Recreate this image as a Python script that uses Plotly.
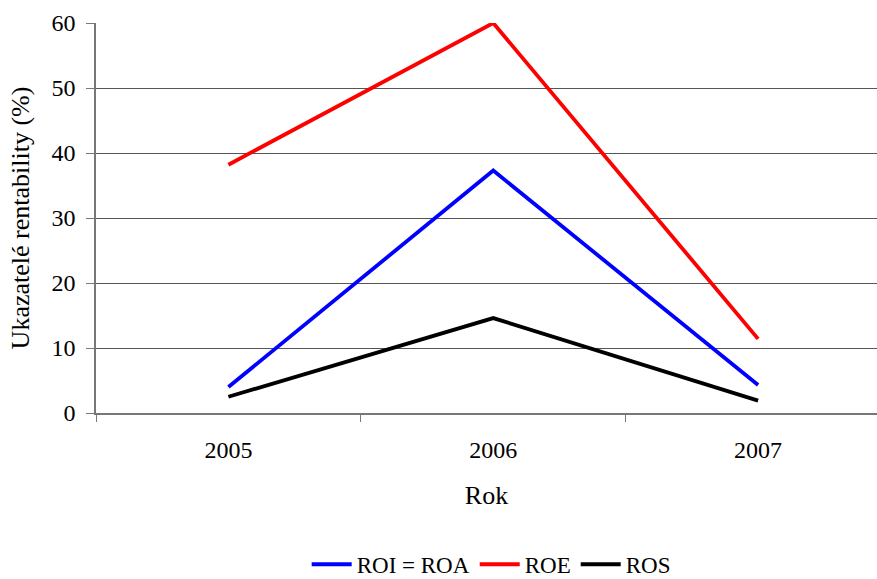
import plotly.graph_objects as go

# Rentabilita podniku v letech 2005-2007
roky = ["2005", "2006", "2007"]
roi_roa = [4.0, 37.3, 4.3]
roe = [38.2, 60.0, 11.4]
ros = [2.5, 14.6, 1.9]

y_ticks = [0, 10, 20, 30, 40, 50, 60]

FONT = "Liberation Serif"
TICK = dict(family=FONT, size=24, color="black")
TITLE = dict(family=FONT, size=26, color="black")
LEG = dict(family=FONT, size=23, color="black")

fig = go.Figure()
for name, vals, color in [
    ("ROI = ROA", roi_roa, "#0000FF"),
    ("ROE", roe, "#FF0000"),
    ("ROS", ros, "#000000"),
]:
    fig.add_trace(go.Scatter(
        x=roky, y=vals, name=name, mode="lines",
        line=dict(color=color, width=3.8),
    ))

fig.update_layout(
    width=877, height=579,
    margin=dict(l=96, r=0, t=23, b=166, autoexpand=False),
    paper_bgcolor="white", plot_bgcolor="white",
    font=TICK,
    showlegend=True,
    legend=dict(
        orientation="h", x=0.506, xanchor="center", y=-0.388, yanchor="middle",
        font=LEG, bgcolor="rgba(0,0,0,0)", itemwidth=40,
    ),
)

fig.update_xaxes(
    type="category", range=[-0.5, 2.449],
    tickson="boundaries", ticks="outside", ticklen=7, tickcolor="#777",
    showline=True, linecolor="#777", linewidth=2,
    showgrid=False, ticklabelstandoff=14, tickfont=TICK,
    title=dict(text="Rok", standoff=24, font=TITLE),
    automargin=False,
)
fig.update_yaxes(
    range=[0, 60], tickvals=y_ticks, ticks="outside", ticklen=8, tickcolor="#777",
    showline=True, linecolor="#777", linewidth=1.5,
    showgrid=True, gridcolor="#555", gridwidth=1,
    zeroline=False, ticklabelstandoff=6, tickfont=TICK,
    title=dict(text="Ukazatelé rentability (%)", standoff=14, font=TITLE),
    automargin=False,
)

fig.write_html("out.html")
